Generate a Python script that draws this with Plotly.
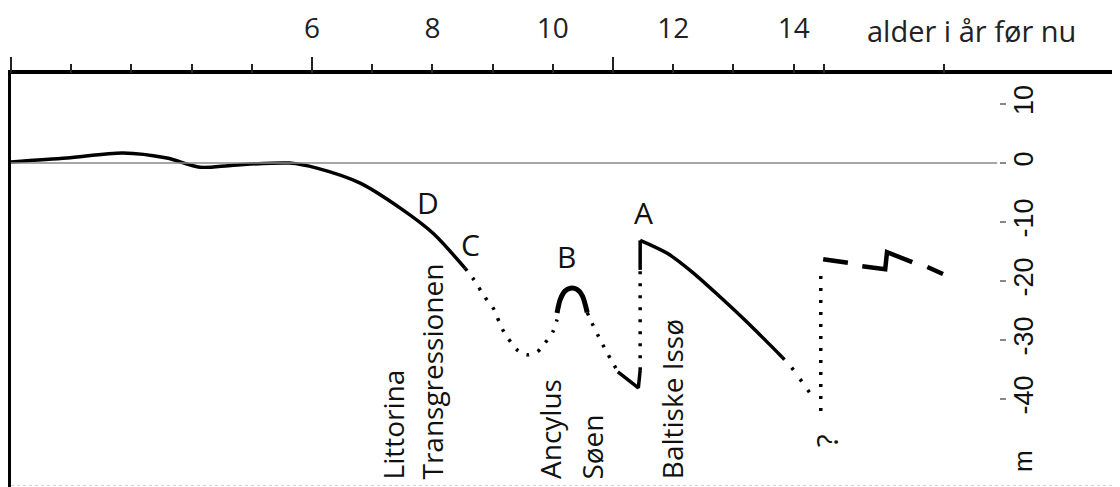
import plotly.graph_objects as go

# ---------------- data (age in thousand years before present, level in m) ----------------
label_years = [6, 8, 10, 12, 14]
short_tick_years = [2, 3, 4, 5, 7, 8, 9, 10, 12, 13, 14, 14.5, 16.5]
long_tick_years = [1, 6, 11]
level_ticks = [10, 0, -10, -20, -30, -40]
level_labels = ["10", "0", "-10", "-20", "-30", "-40"]

# Littorina / postglacial solid curve (up to C)
holo_x = [1.0, 1.93, 2.86, 3.59, 4.14, 4.69, 5.63, 6.08, 6.80, 7.46, 8.01, 8.54]
holo_m = [0.2, 0.85, 1.7, 0.85, -0.7, -0.35, 0.0, -0.85, -3.4, -7.6, -11.9, -17.8]

# dotted C -> B
cb_x = [8.54, 8.69, 8.87, 9.01, 9.17, 9.41, 9.57, 9.74, 9.87, 10.00, 10.07]
cb_m = [-17.8, -19.8, -22.7, -24.6, -28.3, -31.7, -32.5, -32.0, -30.5, -28.6, -26.5]

# Ancylus arc (B)
b_x = [10.07, 10.12, 10.20, 10.29, 10.40, 10.49, 10.57]
b_m = [-25.4, -23.2, -21.7, -21.2, -21.4, -22.5, -25.3]

# dotted B -> bottom
bd_x = [10.57, 10.65, 10.75, 10.83, 10.92, 11.0, 11.08]
bd_m = [-25.3, -27.1, -29.2, -30.8, -32.5, -33.9, -35.4]

# solid hook at the bottom
hook_x = [11.08, 11.25, 11.42, 11.45]
hook_m = [-35.4, -36.8, -38.1, -35.1]

# dotted vertical rise before A
rise_x = [11.45, 11.45]
rise_m = [-35.1, -18.1]

# Baltic ice lake solid curve (A)
a_x = [11.45, 11.45, 11.90, 12.33, 12.78, 13.24, 13.81]
a_m = [-18.1, -13.1, -15.3, -18.6, -22.7, -27.1, -32.9]

# dotted continuation
ad_x = [13.81, 13.97, 14.14, 14.32]
ad_m = [-32.9, -34.7, -37.1, -39.7]

# dotted vertical at ~14.45
q_x = [14.45, 14.45]
q_m = [-42.0, -17.6]

# broken dashes at the top right
dash1_x = [14.49, 14.90]
dash1_m = [-16.3, -16.9]
zig_x = [15.14, 15.52, 15.55, 15.97]
zig_m = [-17.5, -18.0, -15.1, -16.8]
dash3_x = [16.22, 16.48]
dash3_m = [-17.6, -18.8]

X_RANGE = [1.0, 19.42]
Y_RANGE = [-54.9, 15.1]

fig = go.Figure()

DOT = "3px,9px"

def add(x, y, width=3.5, dash=None, shape="spline", xaxis="x", yaxis="y", color="black"):
    fig.add_trace(go.Scatter(
        x=x, y=y, mode="lines", xaxis=xaxis, yaxis=yaxis,
        line=dict(color=color, width=width, dash=dash, shape=shape, smoothing=0.8),
        hoverinfo="skip", showlegend=False))

# zero line
add([1.0, 17.38], [0, 0], width=1.5, color="#8a8a8a", shape="linear", xaxis="x2", yaxis="y2")

add(holo_x, holo_m, width=3.5)
add(cb_x, cb_m, width=3.5, dash=DOT)
add(b_x, b_m, width=5)
add(bd_x, bd_m, width=3.5, dash=DOT)
add(hook_x, hook_m, width=3.5, shape="linear")
add(rise_x, rise_m, width=3.5, dash=DOT, shape="linear")
add(a_x[:2], a_m[:2], width=3.5, shape="linear")
add(a_x[1:], a_m[1:], width=3.5)
add(ad_x, ad_m, width=3.5, dash="3px,11px")
add(q_x, q_m, width=3.5, dash="3px,9px", shape="linear", xaxis="x3")
add(dash1_x, dash1_m, width=4.5, shape="linear")
add(zig_x, zig_m, width=4.5, shape="linear")
add(dash3_x, dash3_m, width=4.5, shape="linear")

TXT = "Open Sans"
annotations = []
for t, x, y in [("D", 7.93, -6.6), ("C", 8.64, -13.8), ("B", 10.22, -15.8), ("A", 11.51, -8.3)]:
    annotations.append(dict(x=x, y=y, xref="x", yref="y", text=t, showarrow=False,
                            font=dict(family=TXT, size=30, color="#111")))

# rotated labels (bottom-aligned)
for t, x in [("Littorina", 7.35), ("Transgressionen", 8.0), ("Ancylus", 9.95),
             ("Søen", 10.65), ("Baltiske Issø", 11.98)]:
    annotations.append(dict(x=x, y=-53.9, xref="x", yref="y", text=t, showarrow=False,
                            textangle=-90, yanchor="bottom", xanchor="center",
                            font=dict(family=TXT, size=28, color="#111")))

annotations.append(dict(x=16.96, y=1.1065, xref="x", yref="paper", text="alder i år før nu",
                        showarrow=False, xanchor="center", yanchor="middle",
                        font=dict(family=TXT, size=29, color="#222")))
annotations.append(dict(x=14.55, y=-47.0, xref="x", yref="y", text="?", showarrow=False,
                        textangle=-90, font=dict(family=TXT, size=30, color="#111")))
annotations.append(dict(x=17.81, y=-50.5, xref="x", yref="y", text="m", showarrow=False,
                        textangle=-90, font=dict(family="Liberation Sans", size=26, color="#111")))

# The page body has an 8px default margin: shrink the figure by that much
fig.update_layout(
    width=1112, height=479,
    margin=dict(l=3, r=0, t=66, b=0, pad=0, autoexpand=False),
    paper_bgcolor="white", plot_bgcolor="white",
    showlegend=False,
    annotations=annotations,
    xaxis=dict(range=X_RANGE, side="top", showline=True, linewidth=4, linecolor="black",
               showgrid=False, zeroline=False, tickmode="array", tickvals=label_years,
               ticktext=[str(v) for v in label_years], ticks="", ticklabelstandoff=21,
               automargin=False, tickfont=dict(family=TXT, size=28, color="#222")),
    xaxis2=dict(range=X_RANGE, overlaying="x", side="top", anchor="y", showline=False,
                showgrid=False, zeroline=False, tickmode="array", tickvals=short_tick_years,
                automargin=False,
                showticklabels=False, ticks="outside", ticklen=9, tickwidth=1.5, tickcolor="#222"),
    xaxis3=dict(range=X_RANGE, overlaying="x", side="top", anchor="y", showline=False,
                showgrid=False, zeroline=False, tickmode="array", tickvals=long_tick_years,
                automargin=False,
                showticklabels=False, ticks="outside", ticklen=16, tickwidth=1.5, tickcolor="#222"),
    yaxis=dict(range=Y_RANGE, showline=True, linewidth=4, linecolor="black", showgrid=False,
               zeroline=False, showticklabels=False, ticks="", automargin=False),
    yaxis2=dict(range=Y_RANGE, overlaying="y", anchor="free", position=(999 - 11) / 1109,
                side="right", showline=False, showgrid=False, zeroline=False, automargin=False,
                tickmode="array", tickvals=level_ticks, ticktext=level_labels, tickangle=-90,
                ticks="outside", ticklen=6, tickwidth=1.5, tickcolor="#888", ticklabelstandoff=-5,
                tickfont=dict(family="Liberation Sans", size=27, color="#111")),
    shapes=[
        dict(type="line", xref="paper", yref="paper", x0=0.997, x1=0.997, y0=0, y1=1,
             line=dict(color="#d0d0d0", width=1, dash="dot")),
        dict(type="line", xref="paper", yref="paper", x0=0, x1=1, y0=0.004, y1=0.004,
             line=dict(color="#d0d0d0", width=1, dash="dot")),
    ],
)

fig.write_html("out.html")
